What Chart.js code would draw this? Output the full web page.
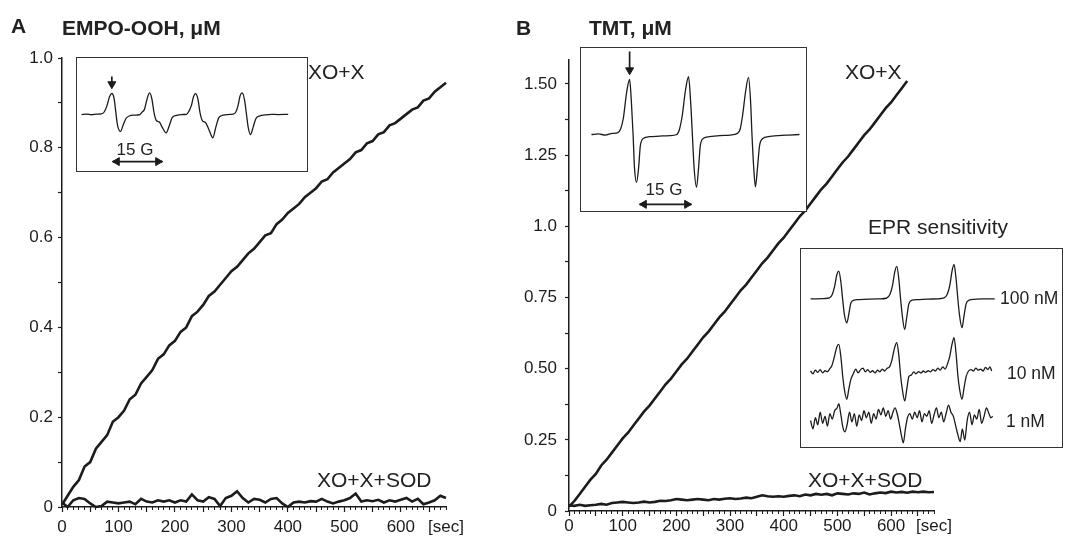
<!DOCTYPE html>
<html>
<head>
<meta charset="utf-8">
<script src="https://cdn.jsdelivr.net/npm/chart.js@4.4.1/dist/chart.umd.min.js"></script>
<style>
  body { margin: 0; background: #fff; }
  #page { position: relative; width: 1065px; height: 543px; overflow: hidden;
          font-family: 'Liberation Sans', Arial, sans-serif; color: #222; }
  #page > canvas, .box, .lbl { position: absolute; }
  .box { border: 1.5px solid #333; box-sizing: border-box; background: #fff; }
  .box canvas { position: absolute; left: 0; top: 0; }
  .lbl { white-space: nowrap; line-height: 1; }
  .b { font-weight: bold; }
</style>
</head>
<body>
<div id="page">
  <canvas id="chartA" width="520" height="543" style="left:0;top:0"></canvas>
  <canvas id="chartB" width="545" height="543" style="left:520px;top:0"></canvas>

  <div class="box" style="left:76px;top:57px;width:232px;height:115px"><canvas id="insetA" width="229" height="112"></canvas></div>
  <div class="box" style="left:580px;top:47px;width:227px;height:165px"><canvas id="insetB" width="224" height="162"></canvas></div>
  <div class="box" style="left:800px;top:248px;width:263px;height:200px"><canvas id="insetS" width="260" height="197"></canvas></div>

  <div class="lbl b" style="left:11px;top:15px;font-size:21px">A</div>
  <div class="lbl b" style="left:62px;top:17px;font-size:21px">EMPO-OOH, μM</div>
  <div class="lbl b" style="left:516px;top:17px;font-size:21px">B</div>
  <div class="lbl b" style="left:589px;top:17px;font-size:21px">TMT, μM</div>

  <div class="lbl" style="left:308px;top:61px;font-size:21px">XO+X</div>
  <div class="lbl" style="left:317px;top:469px;font-size:21px">XO+X+SOD</div>
  <div class="lbl" style="left:845px;top:61px;font-size:21px">XO+X</div>
  <div class="lbl" style="left:808px;top:469px;font-size:21px">XO+X+SOD</div>

  <div class="lbl" style="left:135px;top:141px;font-size:17px;transform:translateX(-50%)">15 G</div>
  <div class="lbl" style="left:664px;top:181px;font-size:17px;transform:translateX(-50%)">15 G</div>
  <div class="lbl" style="left:868px;top:216px;font-size:21px">EPR sensitivity</div>
  <div class="lbl" style="left:1000px;top:290px;font-size:17.5px">100 nM</div>
  <div class="lbl" style="left:1007px;top:365px;font-size:17.5px">10 nM</div>
  <div class="lbl" style="left:1006px;top:413px;font-size:17.5px">1 nM</div>
</div>

<script>
// ---- kinetics, panel A (EMPO-OOH, uM vs sec) ----
const timeA = [0,10,20,30,40,50,60,70,80,90,100,110,120,130,140,150,160,170,180,190,
  200,210,220,230,240,250,260,270,280,290,300,310,320,330,340,350,360,370,380,390,
  400,410,420,430,440,450,460,470,480,490,500,510,520,530,540,550,560,570,580,590,
  600,610,620,630,640,650,660,670,680]
const xoxA = [0.005,0.025,0.045,0.06,0.09,0.10,0.13,0.145,0.16,0.19,0.20,0.215,0.24,0.25,0.275,0.29,0.305,0.33,0.34,0.36,
  0.37,0.39,0.40,0.425,0.435,0.45,0.47,0.48,0.495,0.51,0.525,0.535,0.55,0.565,0.575,0.59,0.605,0.61,0.63,0.64,
  0.655,0.665,0.675,0.69,0.70,0.71,0.725,0.73,0.745,0.755,0.765,0.775,0.79,0.795,0.81,0.815,0.83,0.835,0.85,0.855,
  0.865,0.875,0.885,0.89,0.905,0.91,0.925,0.935,0.945]
const sodA = [0.01,0.0,0.015,0.02,0.018,0.008,0.0,0.002,0.012,0.01,0.008,0.01,0.012,0.006,0.018,0.012,0.01,0.015,0.012,0.015,
  0.01,0.015,0.012,0.028,0.015,0.012,0.022,0.018,0.002,0.02,0.025,0.035,0.02,0.01,0.018,0.016,0.01,0.018,0.02,0.008,
  0.0,0.01,0.012,0.01,0.013,0.012,0.018,0.012,0.008,0.012,0.015,0.02,0.03,0.012,0.015,0.013,0.016,0.01,0.015,0.012,
  0.016,0.02,0.012,0.018,0.006,0.01,0.015,0.025,0.02]

// ---- kinetics, panel B (TMT, uM vs sec) ----
const timeB = timeA
const xoxB = [0.015,0.035,0.06,0.085,0.11,0.13,0.16,0.18,0.205,0.23,0.255,0.275,0.30,0.325,0.35,0.37,0.395,0.42,0.445,0.465,
  0.49,0.515,0.535,0.56,0.585,0.61,0.63,0.655,0.68,0.70,0.725,0.75,0.775,0.795,0.82,0.845,0.87,0.89,0.915,0.94,
  0.96,0.985,1.01,1.035,1.055,1.08,1.105,1.13,1.15,1.175,1.20,1.225,1.245,1.27,1.295,1.32,1.34,1.365,1.39,1.415,
  1.435,1.46,1.485,1.51]
const sodB = [0.02,0.018,0.022,0.018,0.02,0.022,0.025,0.022,0.028,0.03,0.032,0.03,0.028,0.03,0.033,0.03,0.032,0.036,0.035,0.038,
  0.042,0.04,0.038,0.04,0.042,0.04,0.038,0.042,0.04,0.043,0.045,0.042,0.044,0.047,0.045,0.05,0.055,0.052,0.05,0.052,
  0.05,0.053,0.055,0.052,0.058,0.055,0.06,0.057,0.06,0.055,0.062,0.06,0.058,0.062,0.06,0.065,0.058,0.062,0.065,0.063,
  0.068,0.065,0.067,0.064,0.068,0.066,0.068,0.066,0.067]

// ---- axis ticks ----
const xTicks = [0,50,100,150,200,250,300,350,400,450,500,550,600,650,680]
const xLabels = ['0','','100','','200','','300','','400','','500','','600','','[sec]']
const yTicksA = [0,0.1,0.2,0.3,0.4,0.5,0.6,0.7,0.8,0.9,1.0]
const yLabelsA = ['0','','0.2','','0.4','','0.6','','0.8','','1.0']
const yTicksB = [0,0.125,0.25,0.375,0.5,0.625,0.75,0.875,1.0,1.125,1.25,1.375,1.5]
const yLabelsB = ['0','','0.25','','0.50','','0.75','','1.0','','1.25','','1.50']

// ---- EPR spectra (field in G, signal in a.u.) ----
const empoField = [0,1.5,3,4.5,6,6.8,7.6,8.4,9.1,9.8,10.3,10.8,11.7,12.5,13.3,14.3,16,17.5,
  18.2,18.9,19.6,20.4,21.1,21.8,22.5,23.3,24.2,25.4,26.3,27.2,28.5,30,31.5,
  32.2,33,33.6,34.2,34.9,35.6,36.3,37.2,38.3,39.4,40.3,41.2,42.5,44,45.5,
  46.3,47,47.6,48.2,48.9,49.5,50,50.7,51.5,52.3,53.5,55,57,59,62]
const empoSignal = [0,0.02,-0.01,0.02,0.03,0.12,0.4,0.85,1.0,0.75,0.1,-0.5,-0.8,-0.5,-0.2,-0.07,-0.03,0.0,
  0.12,0.25,0.7,1.03,0.75,0.05,-0.3,-0.35,-0.6,-0.87,-0.55,-0.15,-0.04,0.0,0.01,
  0.15,0.45,0.85,0.99,0.75,0.05,-0.3,-0.38,-0.75,-1.11,-0.6,-0.15,-0.03,0.0,0.02,
  0.12,0.45,0.9,1.03,0.7,0.0,-0.6,-0.95,-0.6,-0.2,-0.06,-0.02,0.01,0.0,0.01]
const empoArrow = [[9.1, 1.81], [9.1, 1.45]]
const empoBar = [9.3, 24.3]

const tmtField = [0,2,4,6,7.5,8.4,9.2,10.1,11.0,11.5,12.0,12.4,13.0,13.6,14.1,15.0,16.7,19.6,22.5,
  24.6,25.4,26.2,27.1,28.0,28.6,29.1,29.6,30.3,30.9,31.4,32.3,34,37,40,
  42.1,42.9,43.6,44.5,45.3,45.9,46.3,46.8,47.3,47.9,48.5,49.5,51,54,57,60]
const tmtSignal = [0,0.01,-0.01,0.02,0.03,0.1,0.3,0.75,1.0,0.6,0.0,-0.6,-0.87,-0.6,-0.2,-0.07,-0.04,-0.03,-0.02,
  0.0,0.1,0.35,0.8,1.05,0.6,0.0,-0.6,-0.96,-0.6,-0.2,-0.07,-0.04,-0.02,-0.01,
  0.02,0.1,0.35,0.8,1.04,0.6,0.0,-0.6,-0.95,-0.6,-0.2,-0.07,-0.04,-0.02,-0.01,0.0]
const tmtArrow = [[11.0, 1.51], [11.0, 1.17]]
const tmtBar = [13.85, 28.85]

const field100 = [0,2,4,5.5,6.3,7.0,7.6,8.2,8.8,9.3,9.8,10.5,11.1,11.7,12.6,14,17,20,
  22,23.0,23.8,24.4,25.0,25.6,26.1,26.6,27.3,27.9,28.5,29.4,31,34,37,
  38.7,39.6,40.4,41.0,41.6,42.2,42.7,43.2,43.9,44.5,45.1,46,47.5,50,53.4]
const signal100 = [0,0.0,0.01,0.03,0.15,0.45,0.85,0.99,0.6,0.0,-0.55,-0.86,-0.55,-0.15,-0.05,-0.03,-0.01,0.0,
  0.02,0.15,0.5,0.95,1.16,0.7,0.0,-0.6,-1.1,-0.65,-0.18,-0.05,-0.03,-0.01,0.0,
  0.03,0.15,0.5,0.98,1.23,0.7,0.0,-0.6,-1.03,-0.6,-0.18,-0.05,-0.02,0.0,0.0]
const field10 = [0,0.7,1.4,2.1,2.8,3.5,4.2,4.9,5.5,6.2,6.9,7.6,8.2,8.8,9.3,9.8,10.5,11.1,11.7,12.4,
  13.1,13.8,14.5,15.2,15.9,16.6,17.3,18,18.7,19.4,20.1,20.8,21.5,22.2,22.9,23.6,24.3,25.0,25.6,26.1,
  26.6,27.3,27.9,28.5,29.2,29.9,30.6,31.3,32,32.7,33.4,34.1,34.8,35.5,36.2,36.9,37.6,38.3,39.0,39.7,
  40.4,41.0,41.6,42.2,42.7,43.2,43.9,44.5,45.1,45.8,46.5,47.2,47.9,48.6,49.3,50,50.7,51.4,52,52.5]
const signal10 = [0.05,-0.05,0.08,0.0,0.1,-0.02,0.06,0.02,0.12,0.25,0.55,0.9,1.0,0.55,-0.1,-0.6,-0.96,-0.6,-0.25,-0.05,
  0.12,-0.02,0.1,0.15,0.02,0.1,0.0,0.06,-0.02,0.08,0.02,0.12,0.05,0.15,0.2,0.45,0.85,1.06,0.6,-0.1,
  -0.6,-1.02,-0.6,-0.15,-0.1,0.02,-0.05,0.03,-0.02,0.05,0.0,0.06,0.02,0.1,0.05,0.15,0.08,0.2,0.12,0.3,
  0.6,1.0,1.24,0.65,-0.1,-0.6,-0.96,-0.55,-0.15,0.05,0.1,0.05,0.15,0.08,0.12,0.05,0.18,0.1,0.2,0.05]
const field1 = [0,0.7,1.4,2.1,2.8,3.5,4.2,4.9,5.6,6.3,7,7.7,8.2,8.8,9.4,10,10.6,11.3,12,12.7,
  13.4,14.1,14.8,15.5,16.2,16.9,17.6,18.3,19,19.7,20.4,21.1,21.8,22.5,23.2,23.9,24.5,25.1,25.7,26.3,
  26.9,27.5,28.1,28.8,29.5,30.2,30.9,31.6,32.3,33,33.7,34.4,35.1,35.8,36.5,37.2,37.9,38.6,39.3,40,
  40.7,41.4,42.1,42.8,43.4,44,44.7,45.4,46.1,46.8,47.5,48.2,48.9,49.6,50.3,51,51.7,52.3,52.8]
const signal1 = [0.0,-0.3,0.1,-0.15,0.3,-0.1,0.15,-0.2,0.25,0.05,0.35,0.45,0.6,0.2,-0.25,-0.4,-0.15,0.3,-0.05,0.25,
  -0.2,0.2,0.0,0.35,0.1,0.3,-0.1,0.25,0.05,0.4,0.2,0.45,0.15,0.35,0.05,0.3,0.45,0.25,-0.1,-0.5,
  -0.8,-0.3,0.1,0.25,0.05,0.3,0.1,0.35,-0.05,0.25,0.15,0.35,-0.1,0.2,0.45,0.1,0.3,-0.05,0.25,0.55,
  0.3,0.15,-0.2,-0.55,-0.75,-0.3,-0.7,0.0,0.3,-0.15,0.2,0.05,0.4,-0.1,0.15,0.45,0.25,0.1,0.15]

const ink = '#1c1c1c'
Chart.defaults.font.family = "'Liberation Sans', Arial, sans-serif"
Chart.defaults.color = ink

function pts(xs, ys) { return ys.map((y, i) => ({ x: xs[i], y: y })) }

const minorTicks = []
for (let t = 0; t <= 680; t += 10) minorTicks.push({ value: t })

function kineticsChart(id, xox, sod, yTicks, yLabels, yMax, geo) {
  return new Chart(document.getElementById(id), {
    type: 'line',
    data: {
      datasets: [
        { data: pts(timeA, xox), borderColor: ink, borderWidth: 2.6, pointRadius: 0, tension: 0, clip: 6 },
        { data: pts(timeB, sod), borderColor: ink, borderWidth: 2.6, pointRadius: 0, tension: 0, clip: 6 }
      ]
    },
    options: {
      responsive: false, animation: false,
      layout: { autoPadding: false, padding: { top: geo.top, right: geo.right, bottom: 0, left: 0 } },
      plugins: { legend: { display: false }, tooltip: { enabled: false } },
      scales: {
        x: {
          type: 'linear', min: 0, max: 680,
          afterBuildTicks: s => { s.ticks = xTicks.map(v => ({ value: v })) },
          afterFit: s => { s.height = geo.xh },
          grid: { drawOnChartArea: false, tickLength: 5, tickWidth: 1.2,
                  tickColor: c => (c.index === xTicks.length - 1 ? 'rgba(0,0,0,0)' : ink) },
          border: { color: ink, width: 1.5 },
          ticks: { autoSkip: false, maxRotation: 0, padding: geo.xpad, font: { size: 17 },
                   callback: (v, i) => xLabels[i] }
        },
        xMinor: {
          type: 'linear', axis: 'x', position: { y: 0 }, min: 0, max: 680,
          afterBuildTicks: s => { s.ticks = minorTicks.slice() },
          grid: { drawOnChartArea: false, tickLength: 3, tickWidth: 1, tickColor: ink },
          border: { display: false },
          ticks: { display: false }
        },
        y: {
          min: 0, max: yMax,
          afterBuildTicks: s => { s.ticks = yTicks.map(v => ({ value: v })) },
          afterFit: s => { s.width = geo.yw },
          grid: { drawOnChartArea: false, tickLength: 4, tickWidth: 1.2, tickColor: ink },
          border: { color: ink, width: 1.5 },
          ticks: { autoSkip: false, padding: geo.ypad, font: { size: 17 },
                   callback: (v, i) => yLabels[i] }
        }
      }
    }
  })
}

kineticsChart('chartA', xoxA, sodA, yTicksA, yLabelsA, 1.0,
  { top: 58, right: 74, xh: 36, xpad: 5, yw: 62, ypad: 5 })
kineticsChart('chartB', xoxB, sodB, yTicksB, yLabelsB, 1.584,
  { top: 60, right: 131, xh: 32, xpad: 0, yw: 49, ypad: 8 })

// ---- inset spectra ----
function traceSet(xs, ys, yAxisID) {
  return { data: pts(xs, ys), yAxisID: yAxisID || 'y', borderColor: ink, borderWidth: 1.3,
           pointRadius: 0, cubicInterpolationMode: 'monotone' }
}
function arrowSets(arrow, bar, barY, headR) {
  const shaft = { data: arrow.map(p => ({ x: p[0], y: p[1] })), borderColor: ink, borderWidth: 1.7, pointRadius: 0 }
  const downHead = { data: [{ x: arrow[1][0], y: arrow[1][1] }], showLine: false, pointStyle: 'triangle',
                     rotation: 180, radius: 4.6, backgroundColor: ink, borderColor: ink, borderWidth: 1 }
  const line = { data: [{ x: bar[0], y: barY }, { x: bar[1], y: barY }], borderColor: ink, borderWidth: 1.7, pointRadius: 0 }
  const heads = { data: [{ x: bar[0] + headR, y: barY }, { x: bar[1] - headR, y: barY }], showLine: false,
                  pointStyle: 'triangle', rotation: [270, 90], radius: 4.6,
                  backgroundColor: ink, borderColor: ink, borderWidth: 1 }
  return [shaft, downHead, line, heads]
}
function insetOptions(xmin, xmax, yScales) {
  const scales = { x: { type: 'linear', display: false, min: xmin, max: xmax } }
  Object.keys(yScales).forEach(k => { scales[k] = { display: false, min: yScales[k][0], max: yScales[k][1] } })
  return { responsive: false, animation: false, layout: { autoPadding: false, padding: 0 },
           plugins: { legend: { display: false }, tooltip: { enabled: false } },
           elements: { point: { hoverRadius: 0 } }, scales: scales }
}

new Chart(document.getElementById('insetA'), {
  type: 'line',
  data: { datasets: [traceSet(empoField, empoSignal)].concat(arrowSets(empoArrow, empoBar, -2.24, 1.35)) },
  options: insetOptions(-1.35, 67.35, { y: [-2.64, 2.69] })
})

new Chart(document.getElementById('insetB'), {
  type: 'line',
  data: { datasets: [traceSet(tmtField, tmtSignal)].concat(arrowSets(tmtArrow, tmtBar, -1.27, 1.3)) },
  options: insetOptions(-3.03, 61.6, { y: [-1.373, 1.573] })
})

new Chart(document.getElementById('insetS'), {
  type: 'line',
  data: { datasets: [
    traceSet(field100, signal100, 'y100'),
    traceSet(field10, signal10, 'y10'),
    traceSet(field1, signal1, 'y1')
  ] },
  options: insetOptions(-2.76, 72.6, { y100: [-5.26, 1.78], y10: [-2.63, 4.41], y1: [-0.91, 6.13] })
})
</script>
</body>
</html>
